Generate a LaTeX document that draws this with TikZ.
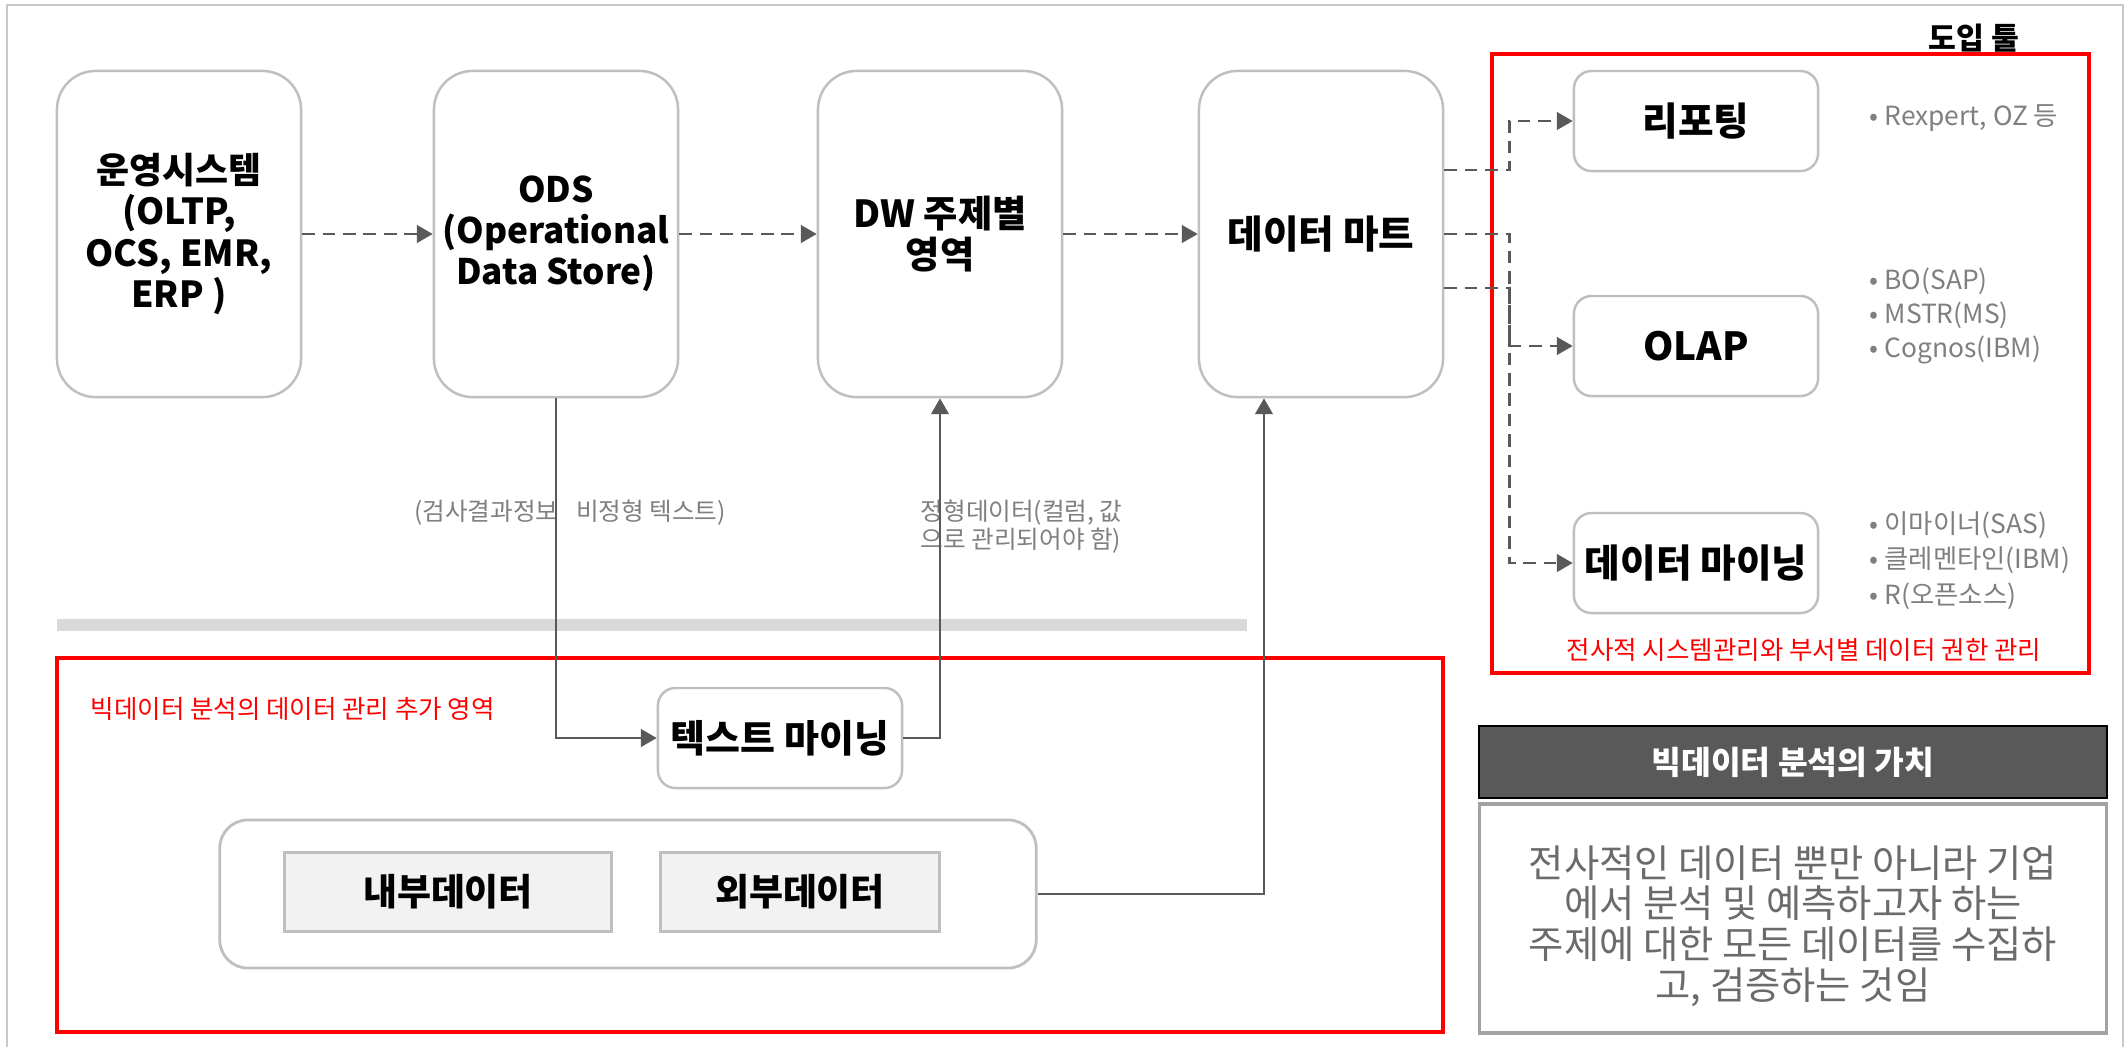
\documentclass[tikz,border=0pt]{standalone}
\usepackage{fontspec}
\setmainfont{Noto Sans CJK KR}
\usetikzlibrary{arrows.meta}
\definecolor{bordergray}{HTML}{BFBFBF}
\definecolor{framegray}{HTML}{C8C8C8}
\definecolor{arrowgray}{HTML}{595959}
\definecolor{bulletgray}{HTML}{7F7F7F}
\definecolor{valuegray}{HTML}{6B6B6B}
\definecolor{lightfill}{HTML}{F2F2F2}
\definecolor{bargray}{HTML}{D9D9D9}
\definecolor{headfill}{HTML}{595959}
\definecolor{redline}{HTML}{FF0000}
\tikzset{
  topbox/.style={draw=bordergray, line width=0.7pt, fill=white, rounded corners=11pt,
    minimum width=2.44cm, minimum height=3.26cm, align=center, inner sep=0pt,
    font=\bfseries\fontsize{10.6}{11.7}\selectfont},
  toolbox/.style={draw=bordergray, line width=0.7pt, fill=white, rounded corners=5pt,
    minimum width=2.44cm, minimum height=1cm, inner sep=0pt,
    font=\bfseries\fontsize{11}{12}\selectfont},
  databox/.style={draw=bordergray, line width=0.9pt, fill=lightfill,
    minimum height=0.79cm, inner sep=0pt, font=\bfseries\fontsize{10.5}{12}\selectfont},
  dasharrow/.style={draw=arrowgray, line width=0.7pt, dash pattern=on 3.6pt off 2.2pt,
    -{Triangle[length=4.5pt,width=5pt]}},
  solidarrow/.style={draw=arrowgray, line width=0.7pt, -{Triangle[length=4.5pt,width=5pt]}},
  bulletitem/.style={anchor=west, text=bulletgray, inner sep=0pt, font=\fontsize{7.5}{8.5}\selectfont},
  redframe/.style={draw=redline, line width=1pt},
  smalllabel/.style={text=bulletgray, inner sep=0pt, font=\fontsize{7}{8}\selectfont},
  redlabel/.style={text=redline, inner sep=0pt, font=\fontsize{7.25}{8}\selectfont}
}
\begin{document}
\begin{tikzpicture}[x=0.01cm,y=-0.01cm]
\useasboundingbox (0,0) rectangle (2127,1047);
% outer frame
\draw[framegray, line width=0.8pt] (7,1047) -- (7,5) -- (2123,5) -- (2123,1047);
% separator bar
\fill[bargray] (57,619) rectangle (1247,631);
% red frames
\draw[redframe] (1492,54) rectangle (2089,673);
\draw[redframe] (57,658) rectangle (1443,1032);
\node[font=\bfseries\fontsize{8.6}{9}\selectfont, inner sep=0pt] (tooltitle) at (1974,38) {도입 툴};

% top row
\node[topbox, font=\bfseries\fontsize{10.2}{11.7}\selectfont] (sys) at (179,234) {운영시스템\\(OLTP,\\OCS, EMR,\\ERP )};
\node[topbox, font=\bfseries\fontsize{10}{11.7}\selectfont] (ods) at (556,234) {ODS\\(Operational\\Data Store)};
\node[topbox] (dw) at (940,234) {DW 주제별\\영역};
\node[topbox, font=\bfseries\fontsize{11}{12}\selectfont] (mart) at (1321,234) {데이터 마트};

% tools
\node[toolbox] (rep) at (1696,121) {리포팅};
\node[toolbox] (olap) at (1696,346) {OLAP};
\node[toolbox] (mine) at (1696,563) {데이터 마이닝};

\node[bulletitem] (b1) at (1869,118) {\textbullet\ Rexpert, OZ 등};
\node[bulletitem] (b2) at (1869,281) {\textbullet\ BO(SAP)};
\node[bulletitem] (b3) at (1869,315) {\textbullet\ MSTR(MS)};
\node[bulletitem] (b4) at (1869,350) {\textbullet\ Cognos(IBM)};
\node[bulletitem] (b5) at (1869,525) {\textbullet\ 이마이너(SAS)};
\node[bulletitem] (b6) at (1869,560) {\textbullet\ 클레멘타인(IBM)};
\node[bulletitem] (b7) at (1869,596) {\textbullet\ R(오픈소스)};
\node[redlabel] (cap1) at (1804,650) {전사적 시스템관리와 부서별 데이터 권한 관리};

% lower area
\node[redlabel, anchor=west] (cap2) at (90,709) {빅데이터 분석의 데이터 관리 추가 영역};
\node[toolbox, font=\bfseries\fontsize{10.8}{12}\selectfont] (tm) at (780,738) {텍스트 마이닝};
\node[draw=bordergray, line width=0.8pt, fill=white, rounded corners=8pt,
      minimum width=8.16cm, minimum height=1.48cm, inner sep=0pt] (cont) at (628,894) {};
\node[databox, minimum width=3.27cm] (inner) at (448,892) {내부데이터};
\node[databox, minimum width=2.79cm] (outer) at (800,892) {외부데이터};

% value box
\node[draw=black, line width=0.6pt, fill=headfill, minimum width=6.27cm, minimum height=0.72cm,
      inner sep=0pt, text=white, font=\bfseries\fontsize{9.2}{10}\selectfont] (head) at (1793,762) {빅데이터 분석의 가치};
\node[draw=bordergray!85!black, line width=1pt, fill=white, minimum width=6.27cm, minimum height=2.29cm,
      inner sep=0pt, text=valuegray] (value) at (1793,918.5) {};
\node[align=center, text=valuegray, inner sep=0pt, font=\fontsize{10.9}{11.6}\selectfont] (valuetext) at (1793,926)
      {전사적인 데이터 뿐만 아니라 기업\\에서 분석 및 예측하고자 하는\\주제에 대한 모든 데이터를 수집하\\고, 검증하는 것임};

% connector labels
\node[smalllabel] (lab1) at (570,513) {(검사결과정보\hspace{0.5em} 비정형 텍스트)};
\node[smalllabel, anchor=west, align=left] (lab2) at (920,527) {정형데이터(컬럼, 값\\으로 관리되어야 함)};

% dashed flow
\draw[dasharrow] (sys.east) -- (ods.west);
\draw[dasharrow] (ods.east) -- (dw.west);
\draw[dasharrow] (dw.east) -- (mart.west);
\draw[dasharrow] ([yshift=0.64cm]mart.east) -- ++(0.65cm,0) |- (rep.west);
\draw[dasharrow] (mart.east) -- ++(0.65cm,0) |- (mine.west);
\draw[dasharrow] ([yshift=-0.54cm]mart.east) -- ++(0.65cm,0) |- (olap.west);

% solid connectors
\draw[solidarrow] (ods.south) |- (tm.west);
\draw[solidarrow] (tm.east) -| (dw.south);
\draw[solidarrow] (cont.east) -| ([xshift=-0.57cm]mart.south);
\end{tikzpicture}
\end{document}
